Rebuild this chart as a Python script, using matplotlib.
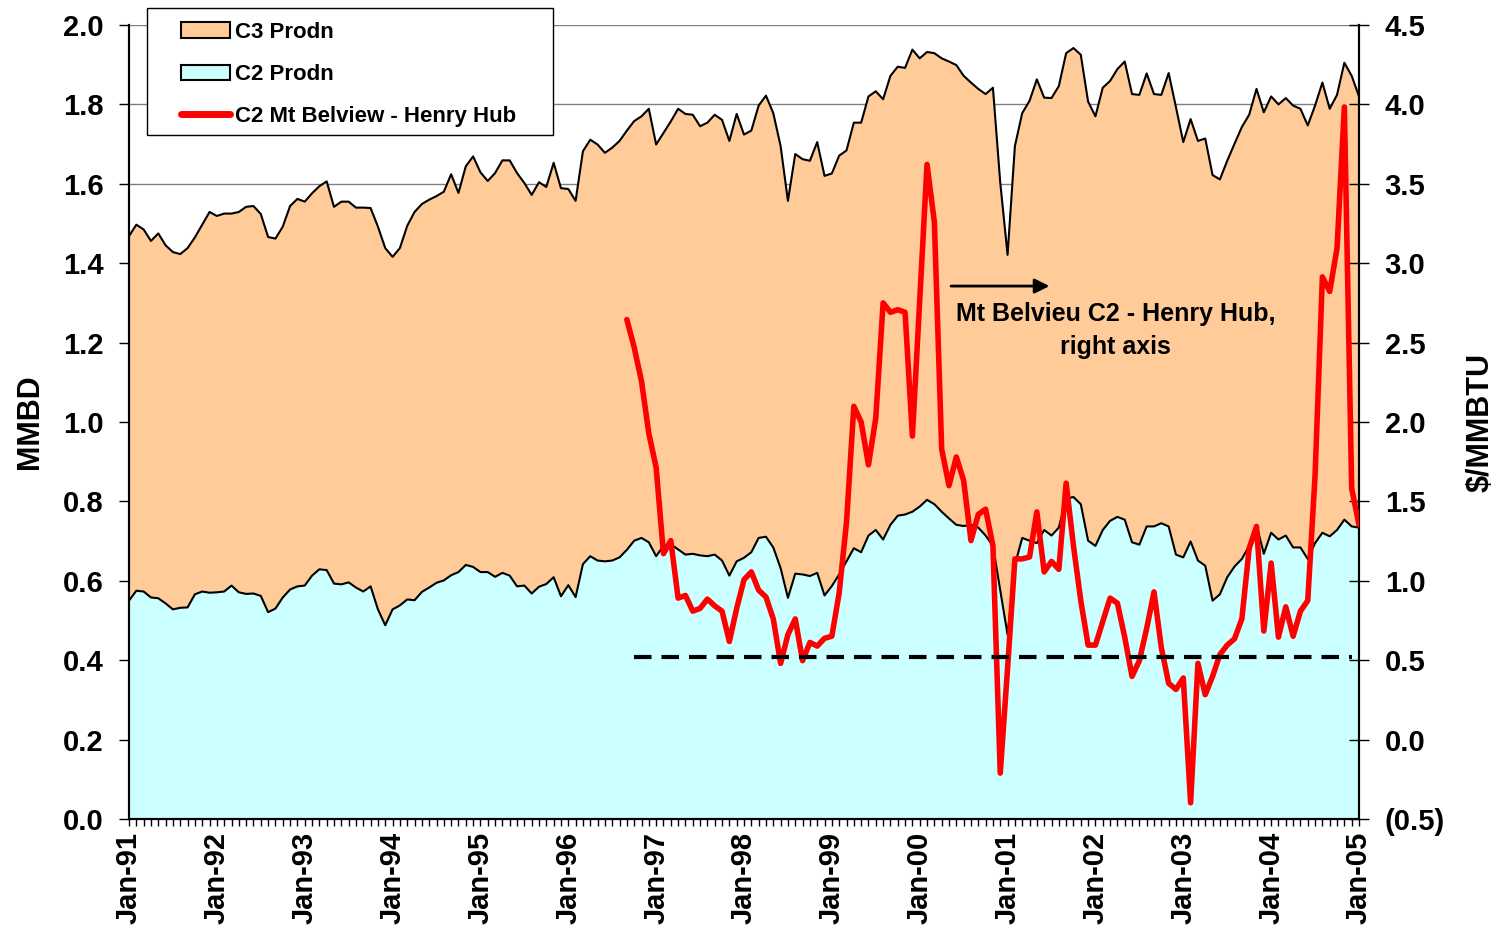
import numpy as np
from matplotlib import pyplot as plt
from matplotlib.ticker import FuncFormatter, MultipleLocator
from matplotlib.patches import Patch, Rectangle
from matplotlib.lines import Line2D

plt.rcParams['font.family'] = ['Liberation Sans', 'DejaVu Sans']
plt.rcParams['font.weight'] = 'bold'

# year labels, one per January (month index 0, 12, 24 ...)
year_labels = ["Jan-91", "Jan-92", "Jan-93", "Jan-94", "Jan-95", "Jan-96", "Jan-97",
               "Jan-98", "Jan-99", "Jan-00", "Jan-01", "Jan-02", "Jan-03", "Jan-04",
               "Jan-05"]

# C2 + C3 production (top of stacked area), MMBD, monthly Jan-91 .. Jan-05
total_prodn = [
    1.468, 1.497, 1.485, 1.456, 1.475, 1.445, 1.428, 1.423, 1.438, 1.465, 1.497, 1.529,
    1.519, 1.525, 1.525, 1.529, 1.542, 1.544, 1.524, 1.466, 1.462, 1.492, 1.544, 1.562,
    1.555, 1.576, 1.594, 1.606, 1.542, 1.555, 1.555, 1.540, 1.540, 1.539, 1.492, 1.438,
    1.416, 1.438, 1.494, 1.529, 1.549, 1.560, 1.569, 1.580, 1.624, 1.577, 1.644, 1.669,
    1.629, 1.607, 1.627, 1.659, 1.659, 1.627, 1.602, 1.572, 1.604, 1.592, 1.653, 1.589,
    1.587, 1.557, 1.682, 1.711, 1.699, 1.678, 1.691, 1.708, 1.734, 1.758, 1.770, 1.789,
    1.699, 1.728, 1.757, 1.789, 1.776, 1.774, 1.745, 1.754, 1.774, 1.761, 1.708, 1.776,
    1.724, 1.734, 1.797, 1.822, 1.778, 1.695, 1.557, 1.675, 1.662, 1.658, 1.705, 1.620,
    1.626, 1.671, 1.684, 1.754, 1.754, 1.820, 1.833, 1.813, 1.872, 1.895, 1.892, 1.938,
    1.916, 1.932, 1.929, 1.916, 1.908, 1.899, 1.872, 1.855, 1.839, 1.826, 1.842, 1.603,
    1.421, 1.695, 1.778, 1.809, 1.863, 1.817, 1.816, 1.846, 1.929, 1.942, 1.925, 1.807,
    1.770, 1.842, 1.859, 1.889, 1.908, 1.826, 1.824, 1.878, 1.826, 1.824, 1.879, 1.793,
    1.705, 1.763, 1.708, 1.714, 1.622, 1.611, 1.658, 1.701, 1.743, 1.774, 1.839, 1.780,
    1.820, 1.800, 1.816, 1.797, 1.789, 1.747, 1.797, 1.855, 1.789, 1.824, 1.905, 1.872,
    1.820]

# C2 production, MMBD
c2_prodn = [
    0.550, 0.575, 0.573, 0.558, 0.556, 0.543, 0.528, 0.532, 0.533, 0.566, 0.573, 0.570,
    0.571, 0.573, 0.588, 0.571, 0.567, 0.568, 0.562, 0.521, 0.530, 0.558, 0.578, 0.586,
    0.588, 0.613, 0.629, 0.627, 0.593, 0.591, 0.596, 0.583, 0.573, 0.586, 0.528, 0.488,
    0.528, 0.538, 0.553, 0.551, 0.572, 0.583, 0.595, 0.601, 0.614, 0.622, 0.640, 0.635,
    0.622, 0.622, 0.610, 0.620, 0.613, 0.586, 0.588, 0.568, 0.585, 0.592, 0.609, 0.561,
    0.589, 0.559, 0.642, 0.662, 0.651, 0.649, 0.651, 0.659, 0.678, 0.701, 0.708, 0.697,
    0.662, 0.688, 0.692, 0.679, 0.666, 0.668, 0.664, 0.662, 0.666, 0.651, 0.613, 0.649,
    0.658, 0.672, 0.708, 0.711, 0.684, 0.632, 0.557, 0.618, 0.616, 0.612, 0.620, 0.563,
    0.587, 0.616, 0.649, 0.682, 0.672, 0.714, 0.728, 0.704, 0.741, 0.764, 0.767, 0.774,
    0.787, 0.804, 0.793, 0.774, 0.757, 0.741, 0.738, 0.741, 0.734, 0.714, 0.688, 0.576,
    0.464, 0.640, 0.708, 0.701, 0.695, 0.728, 0.714, 0.734, 0.807, 0.811, 0.793, 0.701,
    0.688, 0.728, 0.751, 0.761, 0.754, 0.697, 0.691, 0.737, 0.737, 0.745, 0.737, 0.666,
    0.659, 0.699, 0.651, 0.638, 0.550, 0.566, 0.609, 0.636, 0.655, 0.688, 0.741, 0.668,
    0.721, 0.704, 0.714, 0.684, 0.684, 0.655, 0.695, 0.721, 0.712, 0.728, 0.754, 0.737,
    0.734]

# C2 Mt Belvieu - Henry Hub, $/MMBTU, starts Sep-96 (month index 68)
spread_start = 68
c2_spread = [
    2.645, 2.470, 2.257, 1.928, 1.714, 1.171, 1.253, 0.891, 0.908, 0.809, 0.826, 0.885,
    0.842, 0.809, 0.618, 0.826, 1.007, 1.056, 0.941, 0.898, 0.760, 0.480, 0.661, 0.760,
    0.497, 0.612, 0.589, 0.638, 0.651, 0.924, 1.368, 2.099, 2.000, 1.730, 2.026, 2.750,
    2.691, 2.707, 2.691, 1.911, 2.766, 3.622, 3.260, 1.829, 1.599, 1.780, 1.632, 1.253,
    1.418, 1.451, 1.220, -0.211, 0.450, 1.138, 1.138, 1.150, 1.434, 1.056, 1.122, 1.072,
    1.615, 1.220, 0.875, 0.595, 0.595, 0.743, 0.891, 0.859, 0.645, 0.398, 0.497, 0.700,
    0.930, 0.579, 0.355, 0.316, 0.388, -0.398, 0.480, 0.283, 0.398, 0.536, 0.595, 0.635,
    0.760, 1.204, 1.342, 0.684, 1.112, 0.645, 0.836, 0.651, 0.809, 0.875, 1.664, 2.914,
    2.822, 3.095, 3.984, 1.582, 1.352]

# dashed reference level on the right axis
ref_level = 0.52
ref_span = [69, 167]


def right_fmt(val, pos):
    """
    Format right axis labels, negatives in brackets like Excel
    """
    if(val < -1e-9):
        return "({:.1f})".format(-val)
    return "{:.1f}".format(abs(val))


def main():
    months = np.arange(len(total_prodn))
    total = np.array(total_prodn)
    c2 = np.array(c2_prodn)
    spreadX = np.arange(spread_start, spread_start + len(c2_spread))

    W, H = 1503, 926
    fig = plt.figure(figsize=(W/100, H/100), dpi=100)
    ax = fig.add_axes([129/W, 1 - 819/H, (1359-129)/W, (819-25)/H])
    ax2 = ax.twinx()

    c3Color = '#FFCC99'
    c2Color = '#CCFFFF'

    ax.fill_between(months, 0, c2, color=c2Color, lw=0, zorder=1)
    ax.fill_between(months, c2, total, color=c3Color, lw=0, zorder=1)
    ax.plot(months, total, color='black', lw=1.5, zorder=2)
    ax.plot(months, c2, color='black', lw=1.5, zorder=2)

    ax.set_xlim(0, len(total) - 1)
    ax.set_ylim(0, 2.0)
    ax.set_axisbelow(True)
    ax.yaxis.grid(True, color='#808080', lw=1)
    ax.yaxis.set_major_locator(MultipleLocator(0.2))
    ax.yaxis.set_major_formatter(FuncFormatter(lambda v, p: "{:.1f}".format(v)))

    ax.set_xticks(np.arange(0, len(total), 12))
    ax.set_xticklabels(year_labels, rotation=90, fontsize=21, fontweight='bold')
    ax.xaxis.set_minor_locator(MultipleLocator(1))
    ax.tick_params(axis='x', which='both', direction='out', length=5, width=1, pad=4)
    ax.tick_params(axis='y', direction='out', length=7.5, width=1, labelsize=21, pad=11)
    ax.set_ylabel("MMBD", fontsize=22, fontweight='bold', labelpad=13)

    # right axis: spread
    ax2.plot(spreadX, c2_spread, color='#FF0000', lw=4, zorder=3,
             solid_joinstyle='round', solid_capstyle='round')
    ax2.plot(ref_span, [ref_level, ref_level], color='black', lw=3,
             linestyle=(0, (4.2, 2.4)), zorder=3)
    ax2.set_ylim(-0.5, 4.5)
    ax2.yaxis.set_major_locator(MultipleLocator(0.5))
    ax2.yaxis.set_major_formatter(FuncFormatter(right_fmt))
    ax2.tick_params(axis='y', direction='inout', length=15, width=1, labelsize=21, pad=11)
    ax2.set_ylabel("$/MMBTU", fontsize=22, fontweight='bold', labelpad=15)

    for a in (ax, ax2):
        a.spines['top'].set_visible(False)
        for s in ('left', 'right', 'bottom'):
            a.spines[s].set_linewidth(1.5)
    for lab in ax.get_yticklabels() + ax2.get_yticklabels():
        lab.set_fontweight('bold')

    # annotation
    ax2.annotate('', xy=(126.1, 2.856), xytext=(111.9, 2.856),
                 arrowprops=dict(arrowstyle='-|>', color='black', lw=2,
                                 mutation_scale=22))
    ax2.text(134.8, 2.575, "Mt Belvieu C2 - Henry Hub,\nright axis", ha='center',
             va='center', fontsize=18, fontweight='bold', linespacing=1.45)

    # legend box drawn by hand so the entries can sit further in
    box = Rectangle((147/W, 1 - 135/H), (553-147)/W, (135-8)/H, transform=fig.transFigure,
                    facecolor='white', edgecolor='black', lw=1, zorder=9)
    fig.patches.append(box)
    handles = [Patch(facecolor=c3Color, edgecolor='black', lw=1.5, label='C3 Prodn'),
               Patch(facecolor=c2Color, edgecolor='black', lw=1.5, label='C2 Prodn'),
               Line2D([0], [0], color='#FF0000', lw=5, solid_capstyle='round',
                      label='C2 Mt Belview - Henry Hub')]
    leg = fig.legend(handles=handles, loc='upper left',
                     bbox_to_anchor=(181/W, 1 - 22/H), fontsize=16, frameon=False,
                     borderpad=0, labelspacing=0.95, handlelength=2.2,
                     handleheight=0.7, handletextpad=0.25, borderaxespad=0)
    leg.set_zorder(10)
    for t in leg.get_texts():
        t.set_fontweight('bold')

    fig.savefig("out.png", dpi=100)


if __name__ == "__main__":
    main()
